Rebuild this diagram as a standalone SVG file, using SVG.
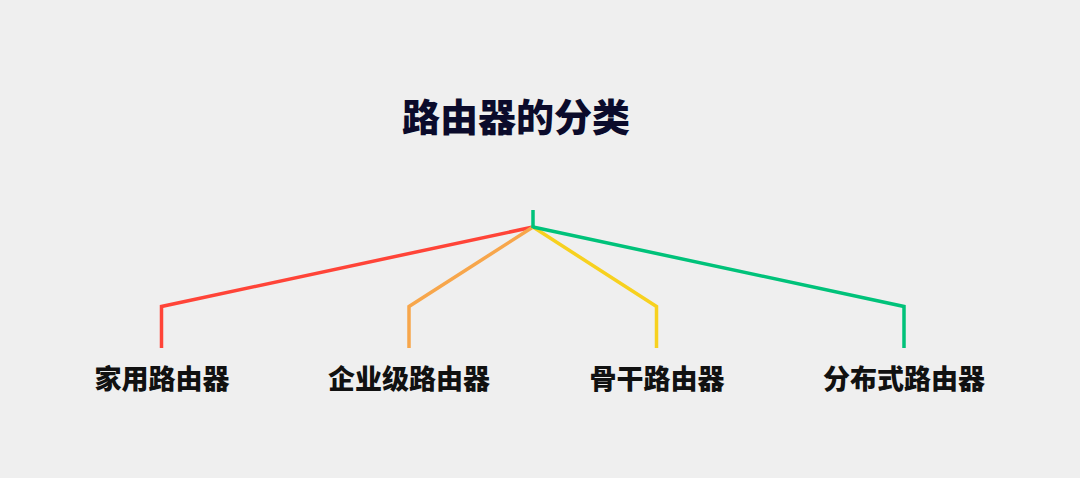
<svg xmlns="http://www.w3.org/2000/svg" width="1080" height="478" viewBox="0 0 1080 478">
<style>
.t{font-family:"Noto Sans CJK SC","Liberation Sans",sans-serif;font-weight:900;text-anchor:middle}
.title{font-size:38px;fill:#0b0b2b}
.lbl{font-size:27px;fill:#111111}
.c{fill:none;stroke-width:3.5;stroke-linejoin:miter}
</style>
<rect width="1080" height="478" fill="#efefef"/>
<g id="title"><text class="t title" x="516" y="131">路由器的分类</text></g>
<g id="connectors">
<polyline class="c" stroke="#ff4438" points="533,227 161.5,306.5 161.5,348"/>
<polyline class="c" stroke="#f7a64b" points="533,227 409,306.5 409,348"/>
<polyline class="c" stroke="#f7d11f" points="533,227 656.5,306.5 656.5,348"/>
<polyline class="c" stroke="#00c27a" points="533,227 904,306.5 904,348"/>
<line class="c" stroke="#00c27a" x1="533" y1="210" x2="533" y2="228"/>
</g>
<g id="n1"><text class="t lbl" x="162" y="389">家用路由器</text></g>
<g id="n2"><text class="t lbl" x="409" y="389">企业级路由器</text></g>
<g id="n3"><text class="t lbl" x="657" y="389">骨干路由器</text></g>
<g id="n4"><text class="t lbl" x="904" y="389">分布式路由器</text></g>
</svg>
